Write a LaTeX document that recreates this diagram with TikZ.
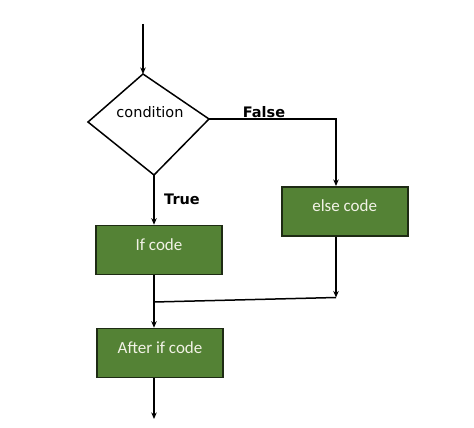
\documentclass[tikz,border=0pt]{standalone}
\usepackage{fontspec}
\setmainfont{Carlito}
\newfontfamily\dejavu{DejaVu Sans}
\usetikzlibrary{arrows.meta,shapes.geometric}
\definecolor{boxgreen}{HTML}{548235}
\definecolor{boxedge}{HTML}{1E2B14}
\definecolor{boxtext}{HTML}{F2F2E6}
\tikzset{
  box/.style={draw=boxedge, line width=1.6pt, fill=boxgreen, minimum width=126pt, minimum height=49pt, text=boxtext, font=\fontsize{17}{20}\selectfont, inner sep=0pt, text height=8pt, text depth=8pt},
  conn/.style={line width=1.5pt, draw=black},
  arr/.style={conn, -{Stealth[length=6.5pt,width=5.5pt]}},
  lbl/.style={font=\dejavu\bfseries\fontsize{14.5}{17}\selectfont},
}
\begin{document}
\begin{tikzpicture}[x=1pt,y=-1pt]
\useasboundingbox (0,0) rectangle (474,428);
% diamond
\coordinate (dT) at (143,74);
\coordinate (dL) at (88,122);
\coordinate (dR) at (209,119);
\coordinate (dB) at (154,175);
\draw[line width=1.5pt, line join=miter] (dT) -- (dR) -- (dB) -- (dL) -- cycle;
\node[font=\dejavu\fontsize{14.5}{17}\selectfont] (cond) at (150,112) {condition};
\coordinate (start) at (143,24);
\draw[arr] (start) -- (dT);
% boxes
\node[box] (ifc) at (159,250) {If code};
\node[box] (elsec) at (344.7,211.3) {else code};
\node[box] (after) at (160,353) {After if code};
% False branch
\coordinate (fc) at (336,119);
\draw[arr] (dR) -- (fc) -- (elsec.north -| fc);
\node[lbl] (false) at (264,112.5) {False};
% True branch
\draw[arr] (dB) -- (ifc.north -| dB);
\node[lbl] (true) at (182,199.5) {True};
% merge
\coordinate (m1) at (336,297.5);
\coordinate (m2) at (154,302);
\draw[arr] (elsec.south -| fc) -- (m1);
\draw[conn] (m1) -- (m2);
\draw[arr] (ifc.south -| m2) -- (after.north -| m2);
% bottom
\coordinate (end) at (154,419);
\draw[arr] (after.south -| end) -- (end);
\end{tikzpicture}
\end{document}
